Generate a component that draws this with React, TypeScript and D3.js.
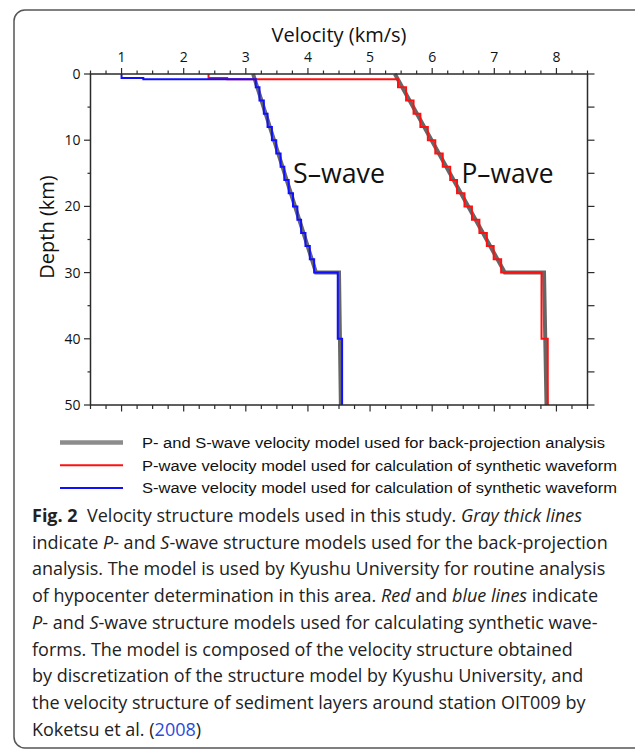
import React from "react";
import * as d3 from "d3";

const velocityTicks = [1, 2, 3, 4, 5, 6, 7, 8];
const depthTicks = [0, 10, 20, 30, 40, 50];

// discretized model: layer tops (km), bottom of last layer is 50 km
const layerTops = [0, 0.6, 0.8, 2, 4, 6, 8, 10, 12, 14, 16, 18, 20, 22, 24, 26, 28, 30, 40];
const layerBottom = 50;
const pLayerV = [2.4, 2.7, 5.45, 5.58, 5.7, 5.81, 5.93, 6.05, 6.17, 6.29, 6.4, 6.52, 6.64, 6.76, 6.88, 6.99, 7.11, 7.76, 7.86];
const sLayerV = [1.0, 1.35, 3.16, 3.22, 3.29, 3.35, 3.42, 3.49, 3.56, 3.62, 3.69, 3.76, 3.83, 3.89, 3.96, 4.03, 4.1, 4.48, 4.55];

// Kyushu University model (gray)
const grayDepth = [0, 30, 30, 50];
const grayP = [5.4, 7.17, 7.8, 7.84];
const grayS = [3.117, 4.13, 4.5, 4.53];

const legendLabels = [
  "P- and S-wave velocity model used for back-projection analysis",
  "P-wave velocity model used for calculation of synthetic waveform",
  "S-wave velocity model used for calculation of synthetic waveform",
];
const legendColors = ["#8c8c8c", "#ff1010", "#1010ff"];
const legendWidths = [4.5, 2, 2];
const legendTextLen = [463, 475, 475];

type Seg = { t: string; b?: boolean; i?: boolean; c?: string };
const captionLines: Seg[][] = [
  [{ t: "Fig. 2", b: true }, { t: "  Velocity structure models used in this study. " }, { t: "Gray thick lines", i: true }],
  [{ t: "indicate " }, { t: "P", i: true }, { t: "- and " }, { t: "S", i: true }, { t: "-wave structure models used for the back-projection" }],
  [{ t: "analysis. The model is used by Kyushu University for routine analysis" }],
  [{ t: "of hypocenter determination in this area. " }, { t: "Red", i: true }, { t: " and " }, { t: "blue lines", i: true }, { t: " indicate" }],
  [{ t: "P", i: true }, { t: "- and " }, { t: "S", i: true }, { t: "-wave structure models used for calculating synthetic wave-" }],
  [{ t: "forms. The model is composed of the velocity structure obtained" }],
  [{ t: "by discretization of the structure model by Kyushu University, and" }],
  [{ t: "the velocity structure of sediment layers around station OIT009 by" }],
  [{ t: "Koketsu et al. (" }, { t: "2008", c: "#2a4bd7" }, { t: ")" }],
];

export default function App() {
  const W = 635, H = 751;
  const x = d3.scaleLinear().domain([0.5, 8.5]).range([90.5, 587.5]);
  const y = d3.scaleLinear().domain([0, 50]).range([74, 405]);

  const stairs = (vals: number[]) => {
    const pts: [number, number][] = [];
    vals.forEach((v, i) => {
      const top = layerTops[i];
      const bot = i + 1 < layerTops.length ? layerTops[i + 1] : layerBottom;
      pts.push([v, top], [v, bot]);
    });
    return pts;
  };
  const line = d3.line<[number, number]>().x((d) => x(d[0])).y((d) => y(d[1]));
  const grayPts = (vals: number[]) => vals.map((v, i) => [v, grayDepth[i]] as [number, number]);

  const minorX = d3.range(0.5, 8.5001, 0.25);
  const minorY = d3.range(0, 50.001, 5);
  const axisColor = "#2b2b2b";
  const font = "'Open Sans', sans-serif";

  return (
    <svg width={W} height={H} style={{ position: "absolute", left: 0, top: 0 }}>
      <rect x={0} y={0} width={W} height={H} fill="#fff" />
      <rect x={14} y={10} width={640} height={738} rx={11} fill="none" stroke="#555" strokeWidth={1.5} />

      {/* gray model */}
      <path d={line(grayPts(grayS)) || ""} fill="none" stroke="#666" strokeWidth={4} />
      <path d={line(grayPts(grayP)) || ""} fill="none" stroke="#666" strokeWidth={4} />
      {/* discretized */}
      <path d={line(stairs(pLayerV)) || ""} fill="none" stroke="#ff1010" strokeWidth={2} />
      <path d={line(stairs(sLayerV)) || ""} fill="none" stroke="#1010ff" strokeWidth={2} />

      {/* frame */}
      <rect x={x(0.5)} y={y(0)} width={x(8.5) - x(0.5)} height={y(50) - y(0)} fill="none" stroke={axisColor} strokeWidth={1.5} />

      {/* top & bottom ticks */}
      {minorX.map((v) => {
        const major = Math.abs(v - Math.round(v)) < 1e-6 && v >= 1;
        return (
          <g key={"tx" + v}>
            <line x1={x(v)} x2={x(v)} y1={y(0)} y2={y(0) - (major ? 6 : 3.5)} stroke={axisColor} strokeWidth={1.2} />
            <line x1={x(v)} x2={x(v)} y1={y(50)} y2={y(50) + (major ? 6.5 : 4)} stroke={axisColor} strokeWidth={1.2} />
          </g>
        );
      })}
      {/* left & right ticks */}
      {minorY.map((d) => {
        const major = d % 10 === 0;
        return (
          <g key={"ty" + d}>
            <line x1={x(0.5)} x2={x(0.5) - (major ? 6.5 : 3)} y1={y(d)} y2={y(d)} stroke={axisColor} strokeWidth={1.2} />
            <line x1={x(8.5)} x2={x(8.5) + 7} y1={y(d)} y2={y(d)} stroke={axisColor} strokeWidth={1.2} />
          </g>
        );
      })}
      {velocityTicks.map((v) => (
        <text key={"lx" + v} x={x(v)} y={61.5} textAnchor="middle" fontFamily={font} fontSize={14} fill="#111">{v}</text>
      ))}
      {depthTicks.map((d) => (
        <text key={"ly" + d} x={80.5} y={y(d) + 5} textAnchor="end" fontFamily={font} fontSize={14} fill="#111">{d}</text>
      ))}
      <text x={(x(0.5) + x(8.5)) / 2} y={41.5} textAnchor="middle" fontFamily={font} fontSize={20} fill="#111">Velocity (km/s)</text>
      <text transform={`translate(54,${227}) rotate(-90)`} textAnchor="middle" fontFamily={font} fontSize={20} fill="#111">Depth (km)</text>

      <text x={293} y={183} fontFamily={font} fontSize={28} textLength={92} lengthAdjust="spacingAndGlyphs" fill="#111">S–wave</text>
      <text x={461.5} y={183} fontFamily={font} fontSize={28} textLength={92} lengthAdjust="spacingAndGlyphs" fill="#111">P–wave</text>

      {/* legend */}
      {legendLabels.map((label, i) => {
        const yy = 442.5 + i * 22.8;
        return (
          <g key={"lg" + i}>
            <line x1={60} x2={123} y1={yy} y2={yy} stroke={legendColors[i]} strokeWidth={legendWidths[i]} />
            <text x={142} y={yy + 5.3} fontFamily="'Liberation Sans', Arial, sans-serif" fontSize={15.5} textLength={legendTextLen[i]} lengthAdjust="spacingAndGlyphs" fill="#111">{label}</text>
          </g>
        );
      })}

      {/* caption */}
      {captionLines.map((segs, i) => (
        <text key={"cap" + i} x={32} y={522 + i * 26.7} fontFamily={font} fontSize={18} fill="#222" style={{ whiteSpace: "pre" }}>
          {segs.map((s, j) => (
            <tspan key={j} fontWeight={s.b ? 700 : 400} fontStyle={s.i ? "italic" : "normal"} fill={s.c || "#222"}>{s.t}</tspan>
          ))}
        </text>
      ))}
    </svg>
  );
}
